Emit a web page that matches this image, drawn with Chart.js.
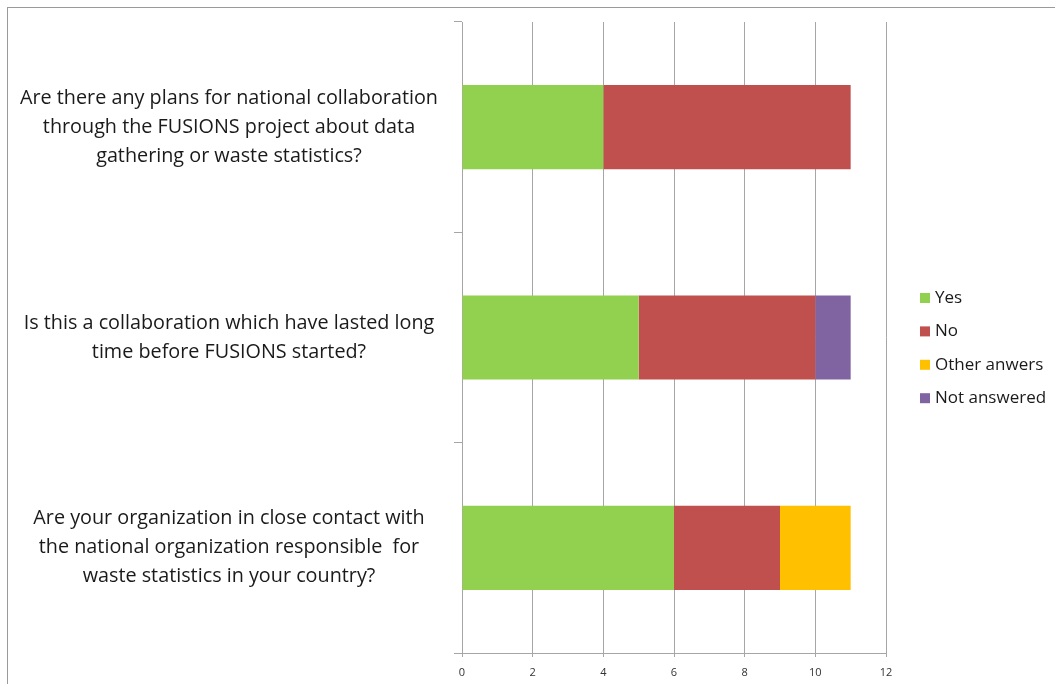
<!DOCTYPE html>
<html>
<head>
<meta charset="utf-8">
<script src="https://cdn.jsdelivr.net/npm/chart.js@4/dist/chart.umd.min.js"></script>
<style>
    html, body { margin: 0; padding: 0; background: #fff; }
    body { width: 1055px; height: 684px; position: relative; overflow: hidden; }
    .frame {
        position: absolute; left: 7px; top: 7px; right: 0; bottom: 0;
        border-left: 1px solid #9a9a9a; border-top: 1px solid #9a9a9a;
    }
    .frame canvas { position: absolute; left: 0; top: 0; }
</style>
</head>
<body>
<div class="frame">
    <canvas id="surveyChart" width="1047" height="676"></canvas>
</div>
<script>
// Survey questions, top to bottom, split into the lines they are shown on
const questions = [
    ["Are there any plans for national collaboration", "through the FUSIONS project about data", "gathering or waste statistics?"],
    ["Is this a collaboration which have lasted long", "time before FUSIONS started?"],
    ["Are your organization in close contact with", "the national organization responsible  for", "waste statistics in your country?"]
];

// Number of answers per question
const yesCounts = [4, 5, 6];
const noCounts = [7, 5, 3];
const otherCounts = [0, 0, 2];
const notAnsweredCounts = [0, 1, 0];

const answerLabels = ["Yes", "No", "Other anwers", "Not answered"];
const answerColors = ["#92d050", "#c0504d", "#ffc000", "#8064a2"];
const xTicks = [0, 2, 4, 6, 8, 10, 12];

const FONT = "'Open Sans', sans-serif";
const GRID = "#a6a6a6";

// Legend drawn at the right, one row per dataset
const sideLegend = {
    id: "sideLegend",
    afterDraw(chart) {
        const ctx = chart.ctx;
        ctx.save();
        ctx.font = "17px " + FONT;
        ctx.textBaseline = "middle";
        ctx.textAlign = "left";
        chart.data.datasets.forEach((ds, i) => {
            const y = 290 + i * 33.4;
            ctx.fillStyle = ds.backgroundColor;
            ctx.fillRect(912, y - 5, 10, 10);
            ctx.fillStyle = "#1a1a1a";
            ctx.fillText(ds.label, 927, y);
        });
        ctx.restore();
    }
};

const series = [yesCounts, noCounts, otherCounts, notAnsweredCounts];

new Chart(document.getElementById("surveyChart"), {
    type: "bar",
    data: {
        labels: questions,
        datasets: series.map((values, i) => ({
            label: answerLabels[i],
            data: values,
            backgroundColor: answerColors[i],
            borderWidth: 0,
            barPercentage: 0.4,
            categoryPercentage: 1
        }))
    },
    options: {
        indexAxis: "y",
        responsive: false,
        animation: false,
        layout: { padding: { top: 14, right: 169, bottom: 0, left: 0 } },
        plugins: {
            legend: { display: false },
            tooltip: { enabled: false }
        },
        scales: {
            x: {
                stacked: true,
                min: 0,
                max: 12,
                afterBuildTicks: axis => { axis.ticks = xTicks.map(v => ({ value: v })); },
                afterFit: axis => {
                    axis.height = 31;
                    axis.paddingLeft = 0;
                    axis.paddingRight = 0;
                },
                grid: { color: GRID, lineWidth: 1, tickLength: 4 },
                border: { color: GRID, width: 1 },
                ticks: {
                    color: "#333",
                    padding: 9,
                    font: { family: FONT, size: 11 }
                }
            },
            y: {
                stacked: true,
                afterFit: axis => {
                    axis.width = 454;
                    axis.paddingTop = 0;
                    axis.paddingBottom = 0;
                },
                grid: {
                    offset: true,
                    drawOnChartArea: false,
                    color: GRID,
                    tickLength: 8
                },
                border: { color: GRID, width: 1 },
                ticks: {
                    crossAlign: "center",
                    padding: 16,
                    color: "#1a1a1a",
                    font: { family: FONT, size: 19.8, lineHeight: 1.465 }
                }
            }
        }
    },
    plugins: [sideLegend]
});
</script>
</body>
</html>
